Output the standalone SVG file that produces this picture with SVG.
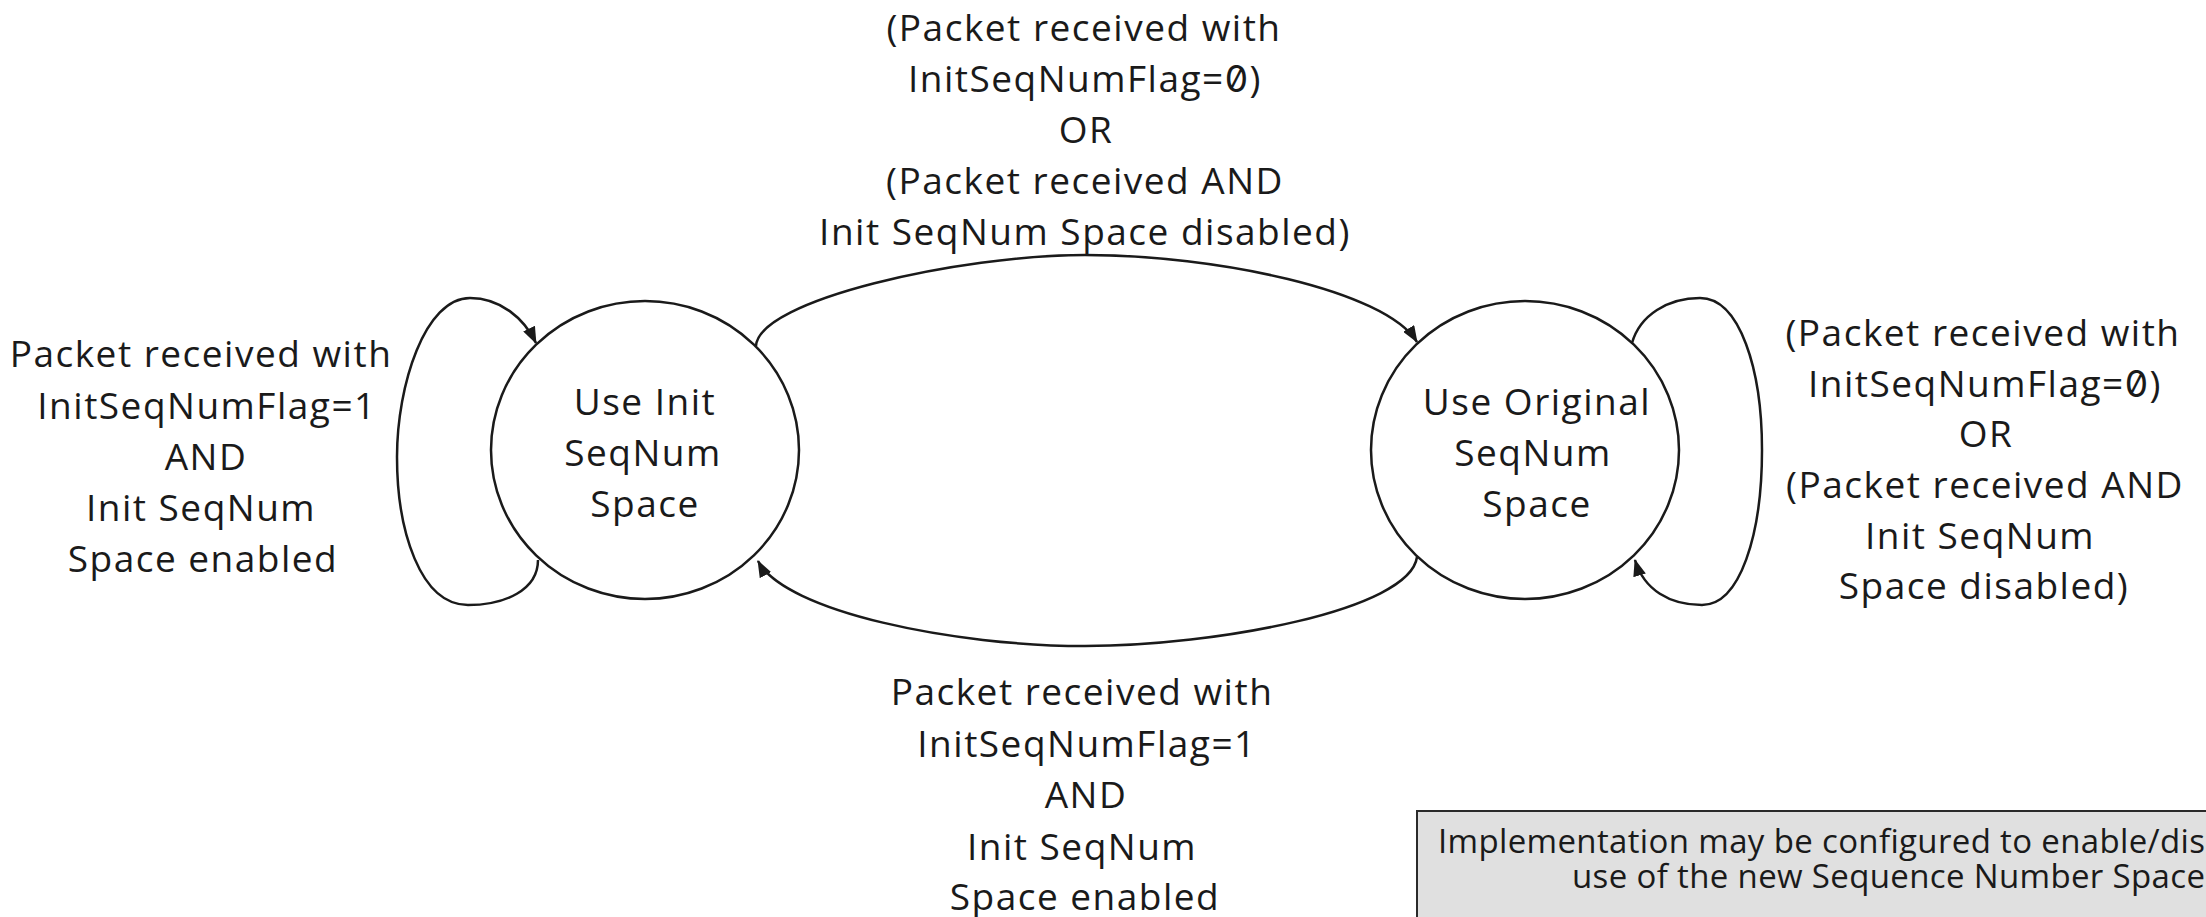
<svg xmlns="http://www.w3.org/2000/svg" width="2206" height="917" viewBox="0 0 2206 917">
  <style>
    .bg { fill: #ffffff; }
    .state { fill: #ffffff; stroke: #1a1a1a; stroke-width: 2.5; }
    .edge { fill: none; stroke: #1a1a1a; stroke-width: 2.5; marker-end: url(#arrow); }
    .lbl { font-family: "Open Sans", "Liberation Sans", sans-serif; font-size: 37px; letter-spacing: 1.5px; fill: #1a1a1a; text-anchor: middle; }
    .note-box { fill: #e0e0e0; stroke: #2a2a2a; stroke-width: 2; }
    .note { font-family: "Open Sans", "Liberation Sans", sans-serif; font-size: 33px; letter-spacing: 0.35px; fill: #1a1a1a; }
    .z { font-family: Inter, "Open Sans", sans-serif; font-feature-settings: "zero" 1; }
  </style>
  <defs>
    <marker id="arrow" markerUnits="userSpaceOnUse" markerWidth="17" markerHeight="13" refX="16" refY="6.5" orient="auto">
      <path d="M0,0 L17,6.5 L0,13 Z" fill="#1a1a1a"/>
    </marker>
  </defs>

  <rect class="bg" x="0" y="0" width="2206" height="917"/>

  <!-- transitions -->
  <g id="connectors">
    <!-- self loop on the init space state -->
    <path class="edge" d="M538,560 C538,590 505,605 468,605 C420,605 397,530 397,457 C397,385 425,298 470,298 C500,298 524,318 536,343"/>
    <!-- init space -> original space -->
    <path class="edge" d="M756,346 C758,300 960,255 1085,255 C1215,255 1385,290 1417,342"/>
    <!-- self loop on the original space state -->
    <path class="edge" d="M1632,343 C1640,315 1668,298 1700,298 C1740,298 1762,370 1762,450 C1762,535 1740,605 1702,605 C1670,605 1644,590 1635,560"/>
    <!-- original space -> init space -->
    <path class="edge" d="M1417,557 C1410,610 1215,646 1085,646 C955,646 785,612 758,561"/>
  </g>

  <g id="state-init">
    <ellipse class="state" cx="645" cy="450" rx="154" ry="149"/>
    <text class="lbl" x="645" y="415">Use Init</text>
    <text class="lbl" x="643" y="466">SeqNum</text>
    <text class="lbl" x="645" y="517">Space</text>
  </g>

  <g id="state-original">
    <ellipse class="state" cx="1525" cy="450" rx="154" ry="149"/>
    <text class="lbl" x="1537" y="415">Use Original</text>
    <text class="lbl" x="1533" y="466">SeqNum</text>
    <text class="lbl" x="1537" y="517">Space</text>
  </g>

  <g id="label-to-original">
    <text class="lbl" x="1084" y="41">(Packet received with</text>
    <text class="lbl" x="1085" y="92">InitSeqNumFlag=<tspan class="z">0</tspan>)</text>
    <text class="lbl" x="1086" y="143">OR</text>
    <text class="lbl" x="1085" y="194">(Packet received AND</text>
    <text class="lbl" x="1085" y="245">Init SeqNum Space disabled)</text>
  </g>

  <g id="label-loop-init">
    <text class="lbl" x="201" y="367">Packet received with</text>
    <text class="lbl" x="207" y="419">InitSeqNumFlag=1</text>
    <text class="lbl" x="206" y="470">AND</text>
    <text class="lbl" x="201" y="521">Init SeqNum</text>
    <text class="lbl" x="203" y="572">Space enabled</text>
  </g>

  <g id="label-loop-original">
    <text class="lbl" x="1983" y="346">(Packet received with</text>
    <text class="lbl" x="1985" y="397">InitSeqNumFlag=<tspan class="z">0</tspan>)</text>
    <text class="lbl" x="1986" y="447">OR</text>
    <text class="lbl" x="1985" y="498">(Packet received AND</text>
    <text class="lbl" x="1980" y="549">Init SeqNum</text>
    <text class="lbl" x="1984" y="599">Space disabled)</text>
  </g>

  <g id="label-to-init">
    <text class="lbl" x="1082" y="705">Packet received with</text>
    <text class="lbl" x="1087" y="757">InitSeqNumFlag=1</text>
    <text class="lbl" x="1086" y="808">AND</text>
    <text class="lbl" x="1082" y="860">Init SeqNum</text>
    <text class="lbl" x="1085" y="910">Space enabled</text>
  </g>

  <g id="note">
    <rect class="note-box" x="1417" y="811" width="1000" height="200"/>
    <text class="note" x="1438" y="853">Implementation may be configured to enable/disable</text>
    <text class="note" x="1572" y="888">use of the new Sequence Number Space</text>
  </g>
</svg>
